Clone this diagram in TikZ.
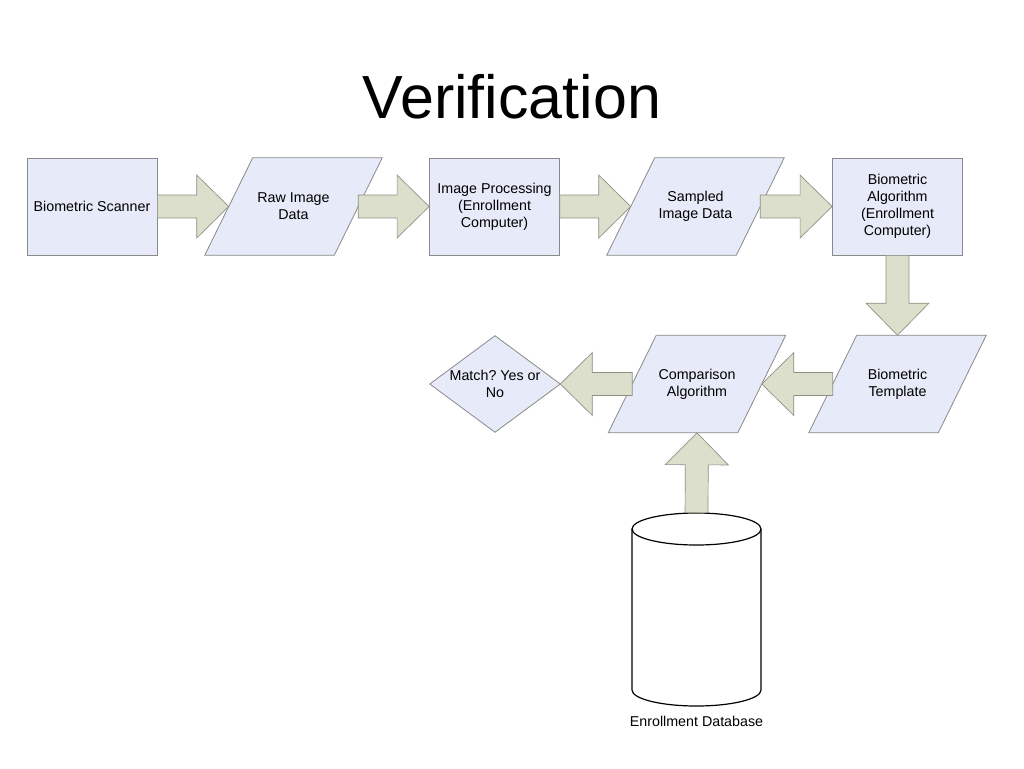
\documentclass[tikz,border=0pt]{standalone}
\usepackage{fontspec}
\setmainfont{Liberation Sans}
\usetikzlibrary{calc,backgrounds}
\definecolor{boxfill}{HTML}{E7EAF8}
\definecolor{boxline}{HTML}{8A8A8A}
\definecolor{arrfill}{HTML}{DCDFCB}
\definecolor{arrline}{HTML}{8E8E84}
\frenchspacing
\newcommand\blockarrow[2]{%
  \coordinate (hb) at ($(#2)!24pt!(#1)$);
  \filldraw[arrowshape]
    ($(#1)!8.6pt!90:(#2)$) -- ($(hb)!8.6pt!90:(#2)$) -- ($(hb)!23.6pt!90:(#2)$) --
    (#2) -- ($(hb)!23.6pt!-90:(#2)$) -- ($(hb)!8.6pt!-90:(#2)$) --
    ($(#1)!8.6pt!-90:(#2)$) -- cycle;}
\newcommand\paradraw[1]{%
  \filldraw[shapeline] ([xshift=18pt]#1.north west) -- ([xshift=18pt]#1.north east) --
    ([xshift=-18pt]#1.south east) -- ([xshift=-18pt]#1.south west) -- cycle;}
\begin{document}
\begin{tikzpicture}[x=0.75pt,y=-0.75pt,
  lbl/.style={align=center, font=\fontsize{10.7}{12.75}\selectfont, inner sep=0pt},
  shapeline/.style={draw=boxline, fill=boxfill, line width=0.6pt},
  procbox/.style={lbl, shapeline, minimum width=97.5pt, minimum height=72.75pt},
  paraslot/.style={lbl, minimum width=96.75pt, minimum height=72.75pt},
  arrowshape/.style={draw=arrline, fill=arrfill, line width=0.5pt, line join=miter},
  dbline/.style={draw=black, fill=white, line width=0.9pt}]
\useasboundingbox (0,0) rectangle (1024,768);

\node[font=\fontsize{45.7}{50}\selectfont, inner sep=0pt] (title) at (512,97) {Verification};

\node[procbox] (scan) at (92,206.5) {Biometric Scanner};
\node[paraslot] (raw) at (293.5,206.5) {Raw Image\\Data};
\node[procbox] (proc) at (494.5,206.5) {Image Processing\\(Enrollment\\Computer)};
\node[paraslot] (samp) at (695.5,206.5) {Sampled\\Image Data};
\node[procbox] (alg) at (897.5,206.5) {Biometric\\Algorithm\\(Enrollment\\Computer)};

\node[paraslot] (tmpl) at (897.5,384) {Biometric\\Template};
\node[paraslot] (comp) at (697,384) {Comparison\\Algorithm};
\node[lbl, minimum width=97.5pt, minimum height=72pt] (match) at (495,384) {Match? Yes or\\No};

\node[minimum width=96.75pt, minimum height=144.75pt, inner sep=0pt] (db) at (696.5,609.5) {};
\node[lbl] (dblabel) at (696.5,721) {Enrollment Database};

\begin{pgfonlayer}{background}
  \fill[white] (0,0) rectangle (1024,768);
  \paradraw{raw}
  \paradraw{samp}
  \paradraw{tmpl}
  \paradraw{comp}
  \filldraw[shapeline] (match.north) -- (match.east) -- (match.south) -- (match.west) -- cycle;
\end{pgfonlayer}

% database cylinder
\filldraw[dbline] (632,529) -- (632,690)
  .. controls (632,698.84) and (660.9,706) .. (696.5,706)
  .. controls (732.1,706) and (761,698.84) .. (761,690)
  -- (761,529)
  .. controls (761,520.16) and (732.1,513) .. (696.5,513)
  .. controls (660.9,513) and (632,520.16) .. (632,529) -- cycle;
\draw[dbline, fill=none] (632,529)
  .. controls (632,537.84) and (660.9,545) .. (696.5,545)
  .. controls (732.1,545) and (761,537.84) .. (761,529);

\blockarrow{scan.east}{raw.west}
\blockarrow{raw.east}{proc.west}
\blockarrow{proc.east}{samp.west}
\blockarrow{samp.east}{alg.west}
\blockarrow{alg.south}{tmpl.north}
\blockarrow{tmpl.west}{comp.east}
\blockarrow{comp.west}{match.east}
\blockarrow{db.north}{comp.south}
\end{tikzpicture}
\end{document}
